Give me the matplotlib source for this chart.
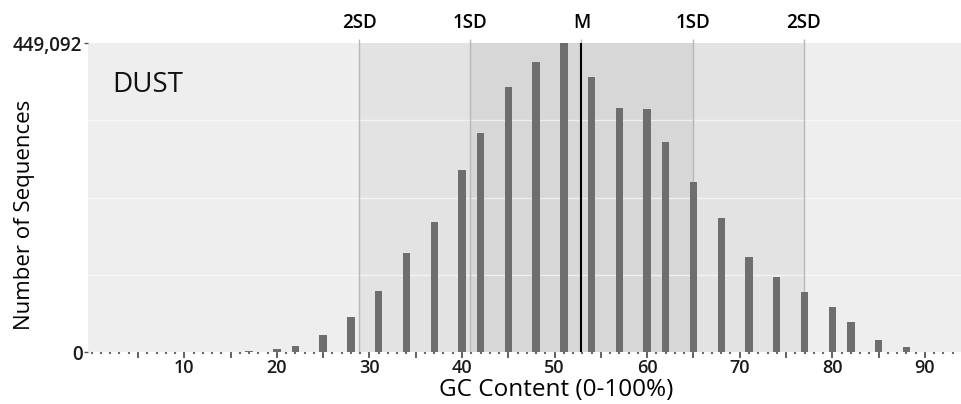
import matplotlib
matplotlib.use("Agg")
import numpy as np
import matplotlib.pyplot as plt
from matplotlib.ticker import FixedLocator, FuncFormatter

# GC content bins (%) and counts
gc = [17, 20, 22, 25, 28, 31, 34, 37, 40, 42, 45, 48, 51,
      54, 57, 60, 62, 65, 68, 71, 74, 77, 80, 82, 85, 88]
counts = [2000, 4400, 8700, 24700, 50900, 88700, 143900, 188900, 264500,
          318300, 385100, 421500, 449092, 399700, 354600, 353200, 305200,
          247100, 194800, 138100, 109000, 87200, 65400, 43600, 17400, 7300]

mean_gc = 52.9
sd_gc = 12.0
ymax = 449092

sd_pos = [mean_gc - 2*sd_gc, mean_gc - sd_gc, mean_gc, mean_gc + sd_gc, mean_gc + 2*sd_gc]
sd_labels = ["2SD", "1SD", "M", "1SD", "2SD"]

plt.rcParams['font.family'] = ['Open Sans', 'DejaVu Sans']

fig = plt.figure(figsize=(9.61, 4.04), dpi=100)
ax = fig.add_axes([88/961, 1 - 352/404, 1 - 88/961, (352 - 43)/404])
ax.set_facecolor("#eeeeee")

# shaded SD bands
ax.axvspan(sd_pos[0], sd_pos[4], color="black", alpha=0.045, lw=0, zorder=1)
ax.axvspan(sd_pos[1], sd_pos[3], color="black", alpha=0.05, lw=0, zorder=1)

# quarter grid lines
for q in [0.25, 0.5, 0.75]:
    ax.axhline(ymax * q, color="white", lw=1, alpha=0.6, zorder=1.5)

ax.bar(gc, counts, width=0.8, color="#6e6e6e", zorder=2)

for p in sd_pos[:2] + sd_pos[3:]:
    ax.axvline(p, color="#b8b8b8", lw=1, zorder=1.8)
ax.axvline(mean_gc, color="black", lw=1.5, zorder=3)

ax.set_xlim(-0.4, 93.9)
ax.set_ylim(0, ymax)

for s in ax.spines.values():
    s.set_visible(False)

# x ticks: dots every unit, small marks every 5, labels every 10
ax.xaxis.set_major_locator(FixedLocator(np.arange(5, 95, 5)))
ax.xaxis.set_minor_locator(FixedLocator(np.arange(0, 95, 1)))
ax.xaxis.set_major_formatter(FuncFormatter(lambda v, p: f"{int(v)}" if v % 10 == 0 else ""))
ax.tick_params(axis="x", which="major", length=4, width=1.3, color="#555555",
               labelsize=13, pad=1, labelcolor="#1a1a1a")
ax.tick_params(axis="x", which="minor", length=1.5, width=1.5, color="#666666")
for lab in ax.get_xticklabels():
    lab.set_fontweight("semibold")

ax.set_yticks([0, ymax])
ax.set_yticklabels(["0", f"{ymax:,}"])
ax.tick_params(axis="y", length=3, width=1, color="#555555", labelsize=13.5,
               pad=1, labelcolor="#1a1a1a")
for lab in ax.get_yticklabels():
    lab.set_fontweight("semibold")

ax.set_xlabel("GC Content (0-100%)", fontsize=17.5)
ax.xaxis.set_label_coords(0.536, -0.083)
ax.set_ylabel("Number of Sequences", fontsize=16)
ax.yaxis.set_label_coords(-0.061, 0.443)

# SD labels on top
top = ax.secondary_xaxis("top")
top.set_xticks(sd_pos)
top.set_xticklabels(sd_labels)
top.tick_params(length=3, width=1, color="#b8b8b8", labelsize=13.5, pad=4)
for lab in top.get_xticklabels():
    lab.set_fontweight("semibold")
top.spines["top"].set_visible(False)

ax.text(0.028, 0.84, "DUST", transform=ax.transAxes, fontsize=20, color="#111111")

fig.savefig("out.png", dpi=100)
plt.close(fig)
